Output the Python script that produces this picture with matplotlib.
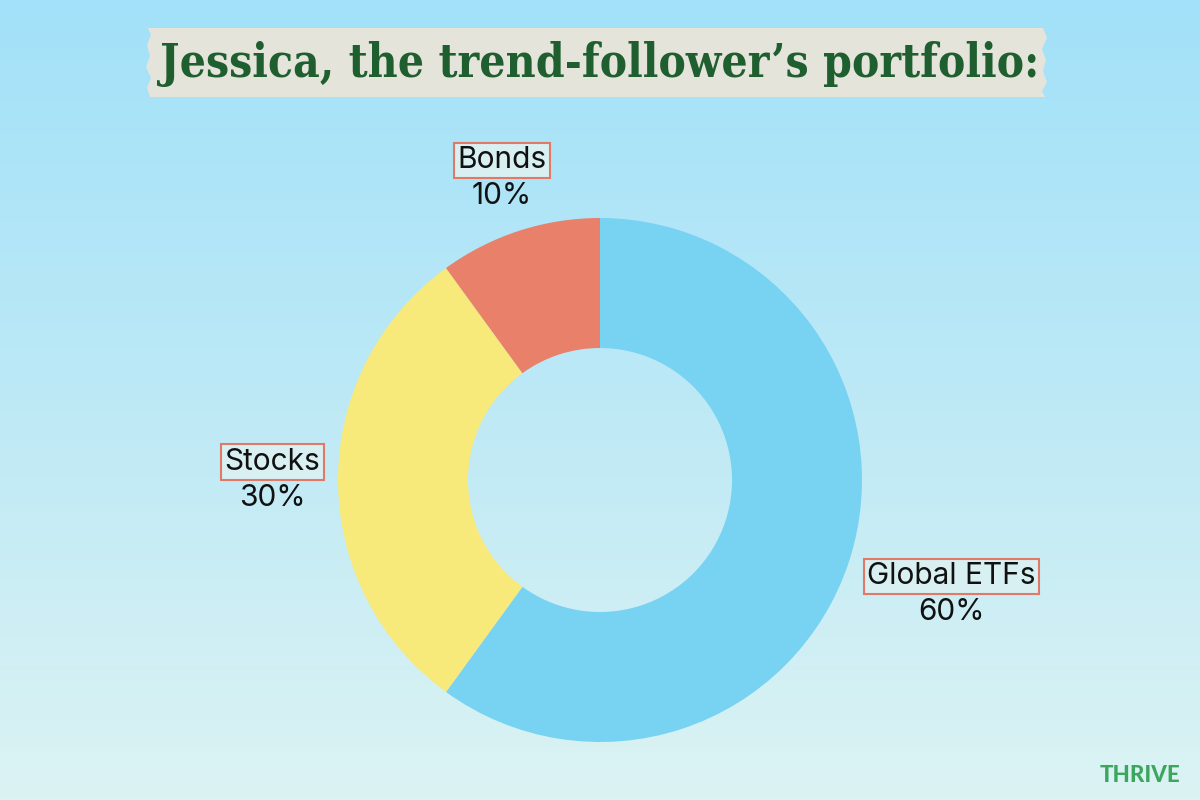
import numpy as np
import matplotlib
matplotlib.use("Agg")
import matplotlib.pyplot as plt
from matplotlib.patches import Polygon
from matplotlib.colors import LinearSegmentedColormap

# ---- data ----
categories = ["Global ETFs", "Stocks", "Bonds"]
shares = [60, 30, 10]
pct_labels = ["60%", "30%", "10%"]
title = "Jessica, the trend-follower\u2019s portfolio:"
brand = "THRIVE"

# ---- style ----
slice_colors = ["#78D2F2", "#F8E97B", "#E8806A"]
label_dist = [1.41, 1.25, 1.21]
W, H = 1200, 800
cx, cy, R = 600, 320, 262
ring_w = 130

fig = plt.figure(figsize=(12, 8), dpi=100)
ax = fig.add_axes([0, 0, 1, 1])
ax.set_xlim(0, W)
ax.set_ylim(0, H)
ax.set_aspect("equal")
ax.axis("off")

# background gradient
cmap = LinearSegmentedColormap.from_list("bg", ["#DCF3F3", "#BDE9F6", "#A2E1F9"])
grad = np.linspace(0, 1, 256).reshape(-1, 1)
ax.imshow(grad, extent=[0, W, 0, H], origin="lower", cmap=cmap, aspect="auto", zorder=0)

# title banner (torn tape)
left = [(150, 703), (147, 712), (151, 722), (146, 733), (150, 744), (147, 755), (151, 765), (148, 772)]
right = [(1043, 772), (1047, 762), (1042, 751), (1046, 740), (1043, 729), (1047, 718), (1042, 709), (1045, 703)]
poly = Polygon(left + right, closed=True, facecolor="#E4E4DB", edgecolor="none", zorder=1)
ax.add_patch(poly)
ax.text(600, 736, title, ha="center", va="center", fontsize=33, fontweight="bold",
        family="DejaVu Serif", fontstretch="condensed", color="#1F5E2F", zorder=2)

# donut
wedges, _ = ax.pie(shares, colors=slice_colors, startangle=90, counterclock=False,
                   center=(cx, cy), radius=R, wedgeprops=dict(width=ring_w, edgecolor="none"),
                   frame=True)
ax.set_xlim(0, W)
ax.set_ylim(0, H)
ax.axis("off")

for w, name, pct, d in zip(wedges, categories, pct_labels, label_dist):
    ang = np.deg2rad((w.theta1 + w.theta2) / 2)
    x = cx + R * d * np.cos(ang)
    y = cy + R * d * np.sin(ang)
    ax.text(x, y + 18, name, ha="center", va="center", fontsize=21.5, family="Inter",
            color="#111111", zorder=4,
            bbox=dict(boxstyle="square,pad=0.12", facecolor="#D8F0F2", edgecolor="#E07A66", linewidth=1.5))
    ax.text(x, y - 18, pct, ha="center", va="center", fontsize=21.5, family="Inter",
            color="#111111", zorder=4)

ax.text(1140, 25, brand, ha="center", va="center", fontsize=16, fontweight="black",
        family="Lato", color="#3BA75C", zorder=4)

fig.savefig("out.png", dpi=100)
